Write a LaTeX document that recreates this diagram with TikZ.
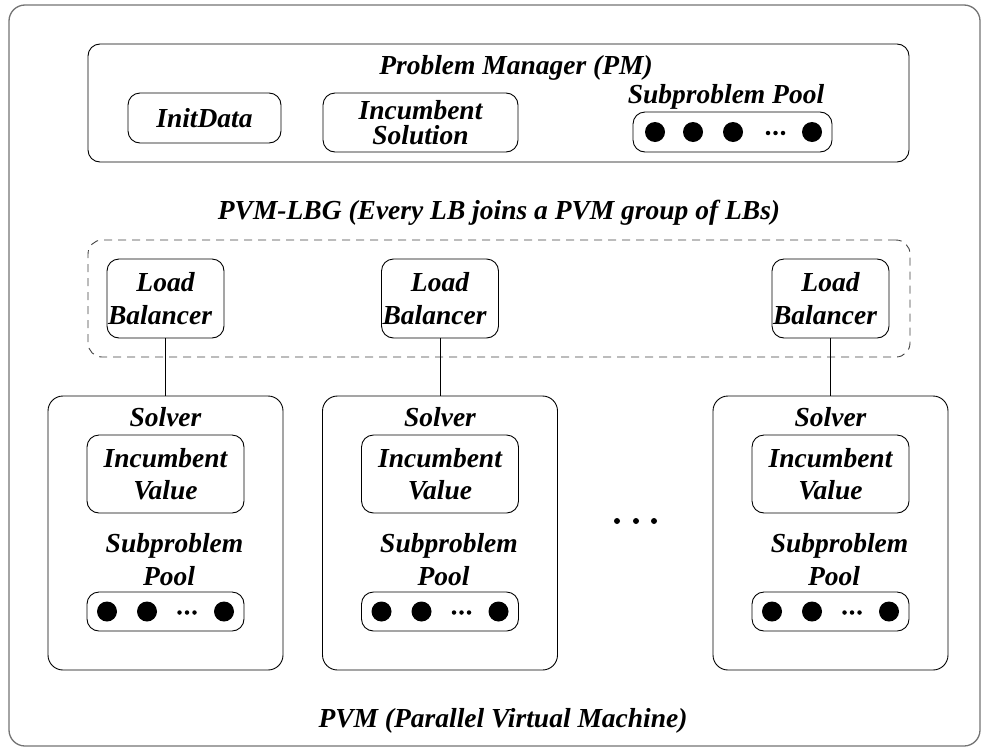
\documentclass[tikz,border=0pt]{standalone}
\usepackage{fontspec}
\setmainfont{Liberation Serif}
\usetikzlibrary{positioning,calc}
\tikzset{
  lbl/.style    = {font=\fontsize{27.5}{32.5}\selectfont\bfseries\itshape,
                   inner sep=0pt, align=center},
  box/.style    = {lbl, shape=rectangle, rounded corners=12pt,
                   draw, line width=0.9pt},
  outer/.style  = {draw=black!55, line width=1.3pt, rounded corners=16pt},
  group/.style  = {draw=black!75, line width=0.9pt, rounded corners=14pt,
                   dash pattern=on 8pt off 6pt},
  ball/.style   = {circle, fill, inner sep=0pt, minimum size=20pt},
  dot/.style    = {circle, fill, inner sep=0pt, minimum size=4.5pt}
}

\begin{document}
\begin{tikzpicture}[x=1pt,y=-1pt,line width=0.9pt]
\useasboundingbox (0,0) rectangle (981,747);
\draw[outer] (9,5) rectangle (980,746);
% problem manager
\node [box, minimum width=821, minimum height=118] (pm) at (498.5,103) {};
\node [lbl, anchor=base] (pmname) at (516,74) {Problem Manager (PM)};
\node [box, minimum width=153, minimum height=50] (init) at (204.5,118) {InitData};
\node [box, minimum width=195, minimum height=59,
       font=\fontsize{27.5}{25}\selectfont\bfseries\itshape] (incsol) at (420.5,122.5) {Incumbent\\Solution};
\node [lbl, anchor=base] (poolname) at (726,103) {Subproblem Pool};
\node [box, minimum width=199, minimum height=40] (pool) at (732.5,132) {};
\foreach \px in {655,693,733,812}
  \node [ball] at (\px,132) {};
\foreach \px in {768,775.5,783}
  \node [dot] at (\px,133) {};
% load balancer group
\node [lbl, anchor=base] (lbgname) at (499,219) {PVM-LBG (Every LB joins a PVM group of LBs)};
\node [group, minimum width=822, minimum height=117] (lbg) at (499,298.5) {};
% solvers
\foreach \i/\x in {1/165.5,2/440,3/830.5} {
  \node [box, minimum width=117, minimum height=79] (lb\i) at (\x,298.5) {Load\\Balancer\hspace*{0.4em}};
  \node [box, rounded corners=15pt, minimum width=235, minimum height=274] (sv\i) at (\x,533) {};
  \node [lbl, anchor=base] (svname\i) at (\x,426) {Solver};
  \node [box, minimum width=157, minimum height=78] (inc\i) at (\x,474) {Incumbent\\Value};
  \node [lbl] (spname\i) at (\x+9,559.5) {Subproblem\\Pool\hspace*{0.4em}};
  \node [box, minimum width=157, minimum height=39] (sp\i) at (\x,611.5) {};
  \foreach \dx in {-58.5,-18.5,58.5}
    \node [ball] at (\x+\dx,611.5) {};
  \foreach \dx in {14,21.5,29}
    \node [dot] at (\x+\dx,612.5) {};
  \draw (lb\i) -- (sv\i);
}
\foreach \px in {617,636,654}
  \node [dot, minimum size=6pt] at (\px,521) {};
\node [lbl, anchor=base] (pvmname) at (503,727) {PVM (Parallel Virtual Machine)};
\end{tikzpicture}
\end{document}
